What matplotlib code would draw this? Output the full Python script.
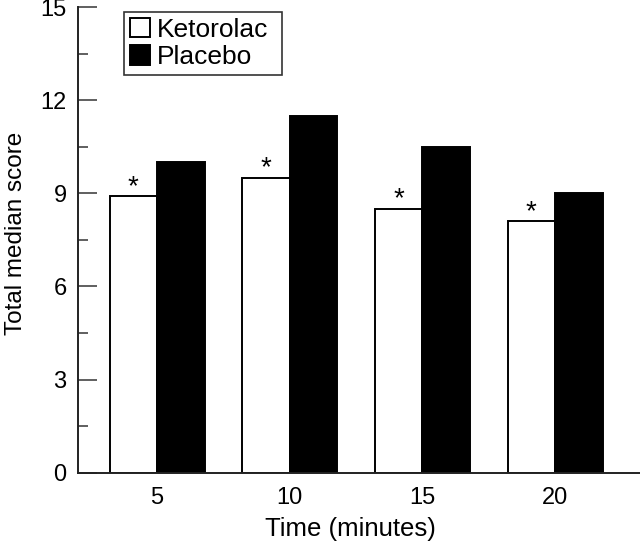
import numpy as np
import matplotlib.pyplot as plt

# Data
times = ["5", "10", "15", "20"]
ketorolac = [8.9, 9.5, 8.5, 8.1]
placebo = [10.0, 11.5, 10.5, 9.0]
y_ticks = [0, 3, 6, 9, 12, 15]

plt.rcParams['font.family'] = ['Liberation Sans', 'DejaVu Sans']
plt.rcParams['font.size'] = 17

fig = plt.figure(figsize=(6.4, 5.45), dpi=100)
ax = fig.add_axes([0.1214, 0.1327, 0.8786, 0.8543])

x = np.arange(len(times))
w = 0.358
ax.bar(x - w / 2, ketorolac, width=w, color="white", edgecolor="black",
       linewidth=1.4, label="Ketorolac", zorder=2)
ax.bar(x + w / 2, placebo, width=w, color="black", edgecolor="black",
       linewidth=1.4, label="Placebo", zorder=2)

# significance stars above the ketorolac bars
for xi, v in zip(x, ketorolac):
    ax.annotate("*", (xi - w / 2, v), xytext=(0, -2.5), textcoords="offset points",
                ha="center", va="bottom", fontsize=20)

ax.set_xlim(-0.598, 3.64)
ax.set_ylim(0, 15)
ax.set_xticks(x)
ax.set_xticklabels(times)
ax.set_yticks(y_ticks)
ax.set_yticks(np.arange(1.5, 15, 3), minor=True)

for s in ["top", "right"]:
    ax.spines[s].set_visible(False)
for s in ["left", "bottom"]:
    ax.spines[s].set_linewidth(1.4)
    ax.spines[s].set_color("#222222")

ax.tick_params(axis="y", which="major", direction="in", length=14, width=1.2,
               color="#444444", pad=8)
ax.tick_params(axis="y", which="minor", direction="in", length=7, width=1.2,
               color="#444444")
ax.tick_params(axis="x", length=0, pad=10)

ax.set_xlabel("Time (minutes)", fontsize=18.5, labelpad=9)
ax.xaxis.set_label_coords(0.485, -0.095)
ax.set_ylabel("Total median score", fontsize=17.5)
ax.yaxis.set_label_coords(-0.09, 0.515)

leg = ax.legend(loc="upper left", bbox_to_anchor=(0.0823, 0.7895, 0.281, 0.2),
                mode="expand", frameon=True,
                fancybox=False, edgecolor="black", fontsize=19, handlelength=0.76,
                handleheight=0.76, handletextpad=0.27, borderpad=0.22,
                labelspacing=0.12, borderaxespad=0)
leg.get_frame().set_linewidth(1.2)

fig.savefig("out.png", dpi=100)
